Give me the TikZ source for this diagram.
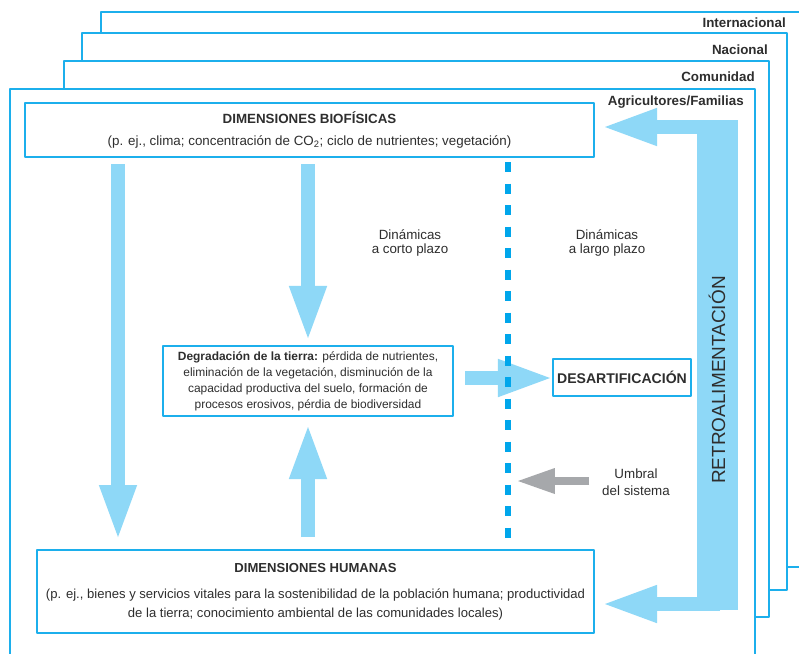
\documentclass[tikz,border=0pt]{standalone}
\usepackage{fontspec}
\setmainfont{Liberation Sans}
\usetikzlibrary{arrows.meta}
\definecolor{cian}{HTML}{1CAFEC}
\definecolor{celeste}{HTML}{8ED8F7}
\definecolor{azulpunto}{HTML}{00A6EB}
\definecolor{gris}{HTML}{A6A8AB}
\definecolor{texto}{HTML}{2E2E2E}
\begin{document}
\begin{tikzpicture}[x=0.025cm, y=-0.025cm, line join=round, text=texto,
	font=\fontsize{9.5}{11.3}\selectfont,
	marco/.style={draw=cian, line width=0.05cm, fill=white},
	caja/.style={draw=cian, line width=0.05cm, fill=white, align=center, inner sep=0pt},
	nivel/.style={font=\fontsize{9.5}{11}\selectfont\bfseries, anchor=east, inner sep=0pt},
	nota/.style={align=center, inner sep=0pt},
	flecha/.style={draw=celeste, line width=0.33cm, -{Triangle[width=0.96cm, length=1.3cm, line width=0pt]}},
	umbral/.style={draw=gris, line width=0.2cm, -{Triangle[width=0.65cm, length=0.92cm, line width=0pt]}}]
	\clip (0,0) rectangle (799,653);
	% niveles, de atras hacia adelante
	\foreach \l/\t/\r/\b/\lx/\ly/\nom [count=\k] in {101/12/840/567/786/23/Internacional, 82/33/787/590/768/50/Nacional, 64/61/769/617/755/77/Comunidad, 10/89/755/700/744/102/{Agricultores/Familias}}{
		\draw[marco] (\l,\t) rectangle (\r,\b);
		\node[nivel] (nivel\k) at (\lx,\ly) {\nom};
	}
	% cajas
	\node[caja, minimum width=14.225cm, minimum height=1.35cm] (bio) at (309.5,130) {\textbf{DIMENSIONES BIOFÍSICAS}\\[4.5pt]
		(p. ej., clima; concentración de CO\textsubscript{2}; ciclo de nutrientes; vegetación)};
	\node[caja, minimum width=7.25cm, minimum height=1.75cm, font=\fontsize{8.5}{11.3}\selectfont] (deg) at (308,381) {\textbf{Degradación de la tierra:} pérdida de nutrientes,\\
		eliminación de la vegetación, disminución de la\\ capacidad productiva del suelo, formación de\\ procesos erosivos, pérdia de biodiversidad};
	\node[caja, minimum width=3.45cm, minimum height=0.925cm, font=\fontsize{10}{12}\selectfont\bfseries] (des) at (622,377.5) {DESARTIFICACIÓN};
	\node[caja, minimum width=13.925cm, minimum height=2.075cm, font=\fontsize{9.3}{11.3}\selectfont] (hum) at (315.5,591.5) {\textbf{DIMENSIONES HUMANAS}\\[7pt]
		(p. ej., bienes y servicios vitales para la sostenibilidad de la población humana; productividad\\[2.2pt]
		de la tierra; conocimiento ambiental de las comunidades locales)};
	% puntos de las flechas
	\path (118,164) coordinate (A1) (118,537) coordinate (A2)
		(308,164) coordinate (B1) (308,338) coordinate (B2)
		(308,537) coordinate (C1) (308,427) coordinate (C2)
		(465,378) coordinate (E1) (550,378) coordinate (E2)
		(589,481) coordinate (U1) (518,481) coordinate (U2)
		(720,127) coordinate (R1) (605,127) coordinate (R2)
		(720,604) coordinate (R3) (605,604) coordinate (R4)
		(508,162) coordinate (L1) (508,538) coordinate (L2);
	\draw[flecha] (A1)--(A2);
	\draw[flecha] (B1)--(B2);
	\draw[flecha] (C1)--(C2);
	\draw[flecha] (E1)--(E2);
	\draw[umbral] (U1)--(U2);
	% retroalimentacion
	\fill[celeste] (697,120) rectangle (738,610);
	\draw[flecha] (R1)--(R2);
	\draw[flecha] (R3)--(R4);
	\node[rotate=90, font=\fontsize{13.5}{15}\selectfont] (retro) at (717,380) {RETROALIMENTACIÓN};
	% umbral punteado
	\draw[azulpunto, line width=0.15cm, dash pattern=on 0.25cm off 0.2875cm] (L1)--(L2);
	\node[nota] (corto) at (410,243) {Dinámicas\\[-0.7pt] a corto plazo};
	\node[nota] (largo) at (607,243) {Dinámicas\\[-0.7pt] a largo plazo};
	\node[nota] (sist) at (636,482) {Umbral\\[1pt] del sistema};
\end{tikzpicture}
\end{document}
